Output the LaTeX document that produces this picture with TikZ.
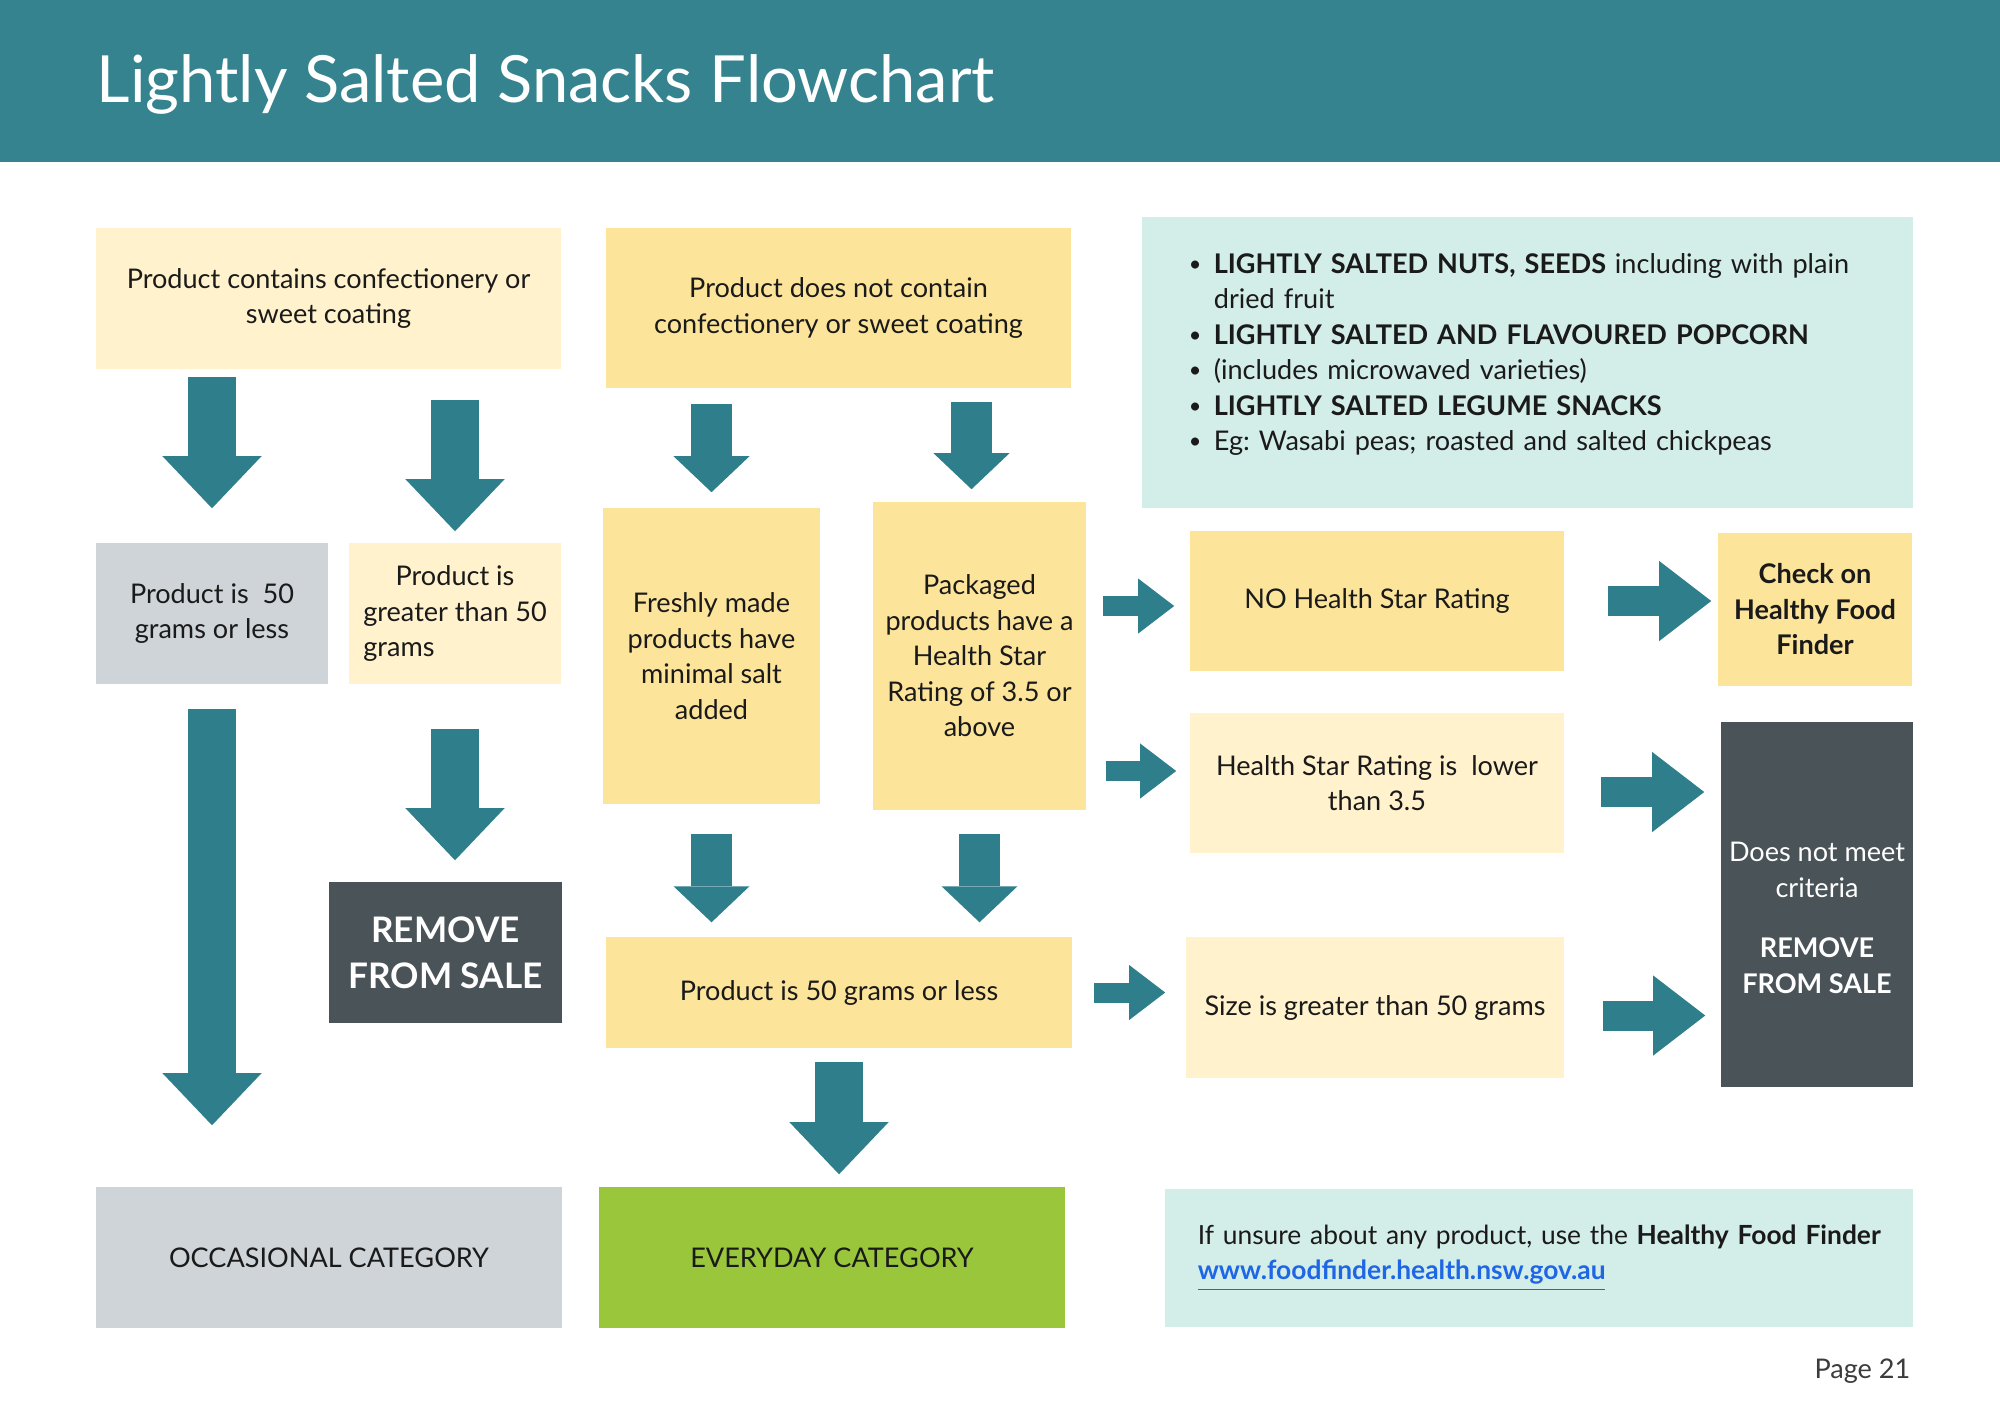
\documentclass[tikz,border=0pt]{standalone}
\usepackage{fontspec}
\setmainfont{Lato}
\usetikzlibrary{arrows.meta,calc,positioning}

\definecolor{hdrteal}{HTML}{35838F}
\definecolor{arrteal}{HTML}{2E7E8B}
\definecolor{cream}{HTML}{FFF2CC}
\definecolor{butter}{HTML}{FCE59A}
\definecolor{cloud}{HTML}{CFD4D8}
\definecolor{slate}{HTML}{4A5357}
\definecolor{lime}{HTML}{9AC63C}
\definecolor{mint}{HTML}{D3EDE9}
\definecolor{ink}{HTML}{1A1A1A}
\definecolor{linkblue}{HTML}{1F66E5}

\newcommand\bodyfont{\fontsize{7.7}{10.1}\selectfont}
\newcommand\itm{\makebox[0.25cm][l]{\raisebox{0.15ex}{\scalebox{0.8}{\textbullet}}}}

\tikzset{
  card/.style={inner sep=0pt, align=center, text=ink, font=\bodyfont},
  bigarrow/.style={draw=arrteal, line width=0.47cm, -{Triangle[width=0.99cm,length=0.52cm,line width=0pt]}},
  midarrow/.style={draw=arrteal, line width=0.41cm, -{Triangle[width=0.76cm,length=0.36cm,line width=0pt]}},
  sidearrow/.style={draw=arrteal, line width=0.30cm, -{Triangle[width=0.80cm,length=0.52cm,line width=0pt]}},
  thinarrow/.style={draw=arrteal, line width=0.20cm, -{Triangle[width=0.55cm,length=0.36cm,line width=0pt]}}
}

\begin{document}
\frenchspacing
\begin{tikzpicture}[x=0.01cm,y=-0.01cm]

\useasboundingbox (0,0) rectangle (2000,1414);

% header band
\fill[hdrteal] (0,0) rectangle (2000,162);
\node[anchor=base west, text=white, inner sep=0pt, font=\fontsize{18.5}{22}\selectfont] (title) at (96,102) {Lightly Salted Snacks Flowchart};

% top row
\node[card, fill=cream, minimum width=4.65cm, minimum height=1.41cm] (coat) at (328.5,298.5) {Product contains confectionery or\\sweet coating};
\node[card, fill=butter, minimum width=4.65cm, minimum height=1.60cm] (nocoat) at (838.5,308) {Product does not contain\\confectionery or sweet coating};
\node[card, fill=mint, minimum width=7.71cm, minimum height=2.91cm, align=left, text width=6.77cm, inner xsep=0.47cm] (list) at (1527.5,362.5) {%
\itm\textbf{LIGHTLY SALTED NUTS, SEEDS} including with plain\\
\hspace*{0.25cm}dried fruit\\
\itm\textbf{LIGHTLY SALTED AND FLAVOURED POPCORN}\\
\itm(includes microwaved varieties)\\
\itm\textbf{LIGHTLY SALTED LEGUME SNACKS}\\
\itm Eg: Wasabi peas; roasted and salted chickpeas\par\vspace{0.16cm}};

% second row
\node[card, fill=cloud, minimum width=2.32cm, minimum height=1.41cm] (small) at (212,613.5) {Product is~ 50\\grams or less};
\node[card, fill=cream, minimum width=2.12cm, minimum height=1.41cm] (big) at (455,613.5) {Product is\\greater than 50\\\rlap{grams}\phantom{greater than 50}};
\node[card, fill=butter, minimum width=2.17cm, minimum height=2.96cm] (fresh) at (711.5,656) {Freshly made\\products have\\minimal salt\\added};
\node[card, fill=butter, minimum width=2.13cm, minimum height=3.08cm] (pack) at (979.5,656) {Packaged\\products have a\\Health Star\\Rating of 3.5 or\\above};
\node[card, fill=butter, minimum width=3.74cm, minimum height=1.40cm] (nohsr) at (1377,601) {NO Health Star Rating};
\node[card, fill=butter, minimum width=1.94cm, minimum height=1.53cm, font=\bodyfont\bfseries] (check) at (1815,609.5) {Check on\\Healthy Food\\Finder};
\node[card, fill=cream, minimum width=3.74cm, minimum height=1.40cm] (hsrlow) at (1377,783) {Health Star Rating is~ lower\\than 3.5};
\node[card, fill=slate, text=white, minimum width=1.92cm, minimum height=3.65cm] (fail) at (1817,904.5) {\rule{0pt}{0.46cm}Does not meet\\criteria\\[0.25cm]\textbf{REMOVE}\\\textbf{FROM SALE}};

% third row
\node[card, fill=slate, text=white, minimum width=2.33cm, minimum height=1.41cm, font=\fontsize{10}{13}\selectfont\bfseries] (remove) at (445.5,952.5) {REMOVE\\FROM SALE};
\node[card, fill=butter, minimum width=4.66cm, minimum height=1.11cm] (grams) at (839,992.5) {Product is 50 grams or less};
\node[card, fill=cream, minimum width=3.78cm, minimum height=1.41cm] (size) at (1375,1007.5) {Size is greater than 50 grams};

% bottom row
\node[card, fill=cloud, minimum width=4.66cm, minimum height=1.41cm] (occ) at (329,1257.5) {OCCASIONAL CATEGORY};
\node[card, fill=lime, minimum width=4.66cm, minimum height=1.41cm] (every) at (832,1257.5) {EVERYDAY CATEGORY};
\node[card, fill=mint, minimum width=7.48cm, minimum height=1.38cm, align=left, text width=6.82cm, inner xsep=0.33cm, font=\fontsize{7.5}{10.1}\selectfont] (info) at (1539,1258) {\mbox{If unsure about any product, use the \textbf{Healthy Food Finder}}\\
\textcolor{linkblue}{\bfseries\underline{www.foodfinder.health.nsw.gov.au}}};
\node[anchor=base east, inner sep=0pt, text=ink!85, font=\bodyfont] (page) at (1911,1378) {Page 21};

% downward arrows
\draw[bigarrow, shorten <=0.07cm, shorten >=0.34cm] (coat.south -| small.north) -- (small.north);
\draw[bigarrow, shorten <=0.30cm, shorten >=0.11cm] (coat.south -| big.north) -- (big.north);
\draw[midarrow, shorten <=0.15cm, shorten >=0.15cm] (nocoat.south -| fresh.north) -- (fresh.north);
\draw[midarrow, shorten <=0.13cm, shorten >=0.12cm] ([xshift=-0.08cm]nocoat.south -| pack.north) -- ([xshift=-0.08cm]pack.north);
\draw[bigarrow, shorten <=0.24cm, shorten >=0.61cm] (small.south) -- (occ.north -| small.south);
\draw[bigarrow, shorten <=0.44cm, shorten >=0.21cm] (big.south) -- (remove.north -| big.south);
\draw[midarrow, shorten <=0.29cm, shorten >=0.14cm] (fresh.south) -- (grams.north -| fresh.south);
\draw[midarrow, shorten <=0.23cm, shorten >=0.14cm] (pack.south) -- (grams.north -| pack.south);
\draw[bigarrow, shorten <=0.13cm, shorten >=0.12cm] (grams.south) -- (every.north -| grams.south);

% sideways arrows
\draw[thinarrow, shorten <=0.16cm, shorten >=0.15cm] ([yshift=-0.05cm]pack.east |- nohsr.west) -- ([yshift=-0.05cm]nohsr.west);
\draw[thinarrow, shorten <=0.19cm, shorten >=0.13cm] ([yshift=0.12cm]pack.east |- hsrlow.west) -- ([yshift=0.12cm]hsrlow.west);
\draw[thinarrow, shorten <=0.21cm, shorten >=0.20cm] (grams.east) -- (grams.east -| size.west);
\draw[sidearrow, shorten <=0.43cm, shorten >=0.06cm] (nohsr.east) -- (nohsr.east -| check.west);
\draw[sidearrow, shorten <=0.36cm, shorten >=0.16cm] ([yshift=-0.09cm]hsrlow.east) -- ([yshift=-0.09cm]hsrlow.east -| fail.west);
\draw[sidearrow, shorten <=0.38cm, shorten >=0.15cm] ([yshift=-0.08cm]size.east) -- ([yshift=-0.08cm]size.east -| fail.west);

\end{tikzpicture}
\end{document}
